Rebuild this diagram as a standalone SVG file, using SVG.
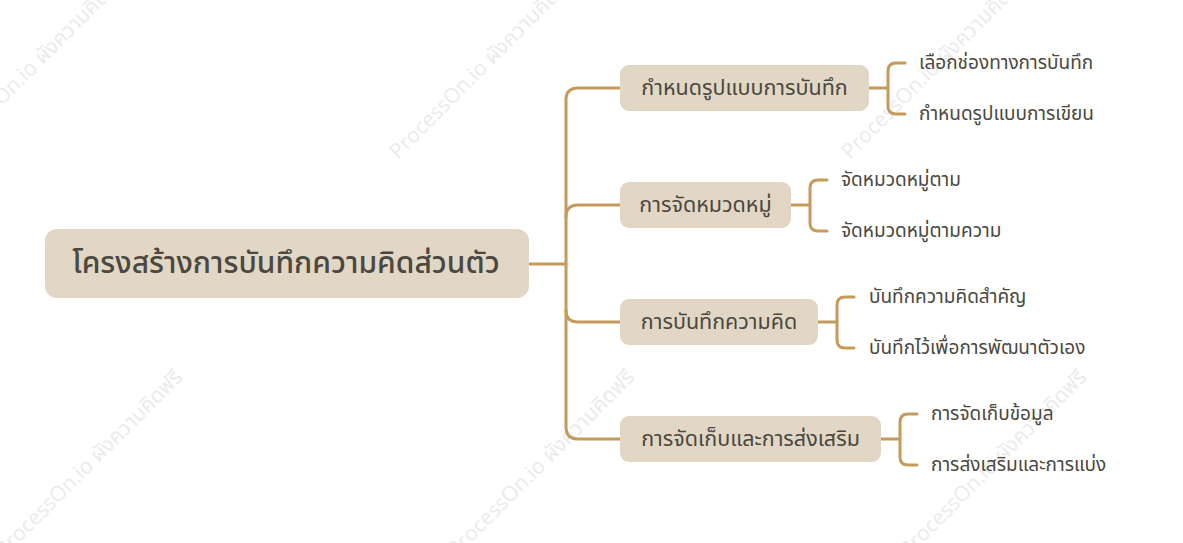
<svg xmlns="http://www.w3.org/2000/svg" width="1183" height="543" viewBox="0 0 1183 543">
<style>
.box{fill:#e2d7c5;}
.t{font-family:"Noto Sans Thai","Noto Sans",sans-serif;fill:#4a4840;dominant-baseline:central;}
.root{font-size:30px;font-weight:500;}
.mid{font-size:21.5px;}
.leaf{font-size:19px;}
.ln{fill:none;stroke:#c49b5a;stroke-width:3;stroke-linecap:round;stroke-linejoin:round;}
.wm{font-family:"Open Sans","Noto Sans Thai",sans-serif;font-size:21px;fill:#ebebeb;}
</style>
<g id="watermarks">
<text class="wm" transform="translate(-52,160) rotate(-45)">ProcessOn.io ผังความคิดฟรี</text>
<text class="wm" transform="translate(398,160) rotate(-45)">ProcessOn.io ผังความคิดฟรี</text>
<text class="wm" transform="translate(850,160) rotate(-45)">ProcessOn.io ผังความคิดฟรี</text>
<text class="wm" transform="translate(4,558) rotate(-45)">ProcessOn.io ผังความคิดฟรี</text>
<text class="wm" transform="translate(456,558) rotate(-45)">ProcessOn.io ผังความคิดฟรี</text>
<text class="wm" transform="translate(908,558) rotate(-45)">ProcessOn.io ผังความคิดฟรี</text>
</g>
<g id="connectors">
<path class="ln" d="M529,264 H566"/>
<path class="ln" d="M620,88 H578 Q566,88 566,100 V427 Q566,439 578,439 H620"/>
<path class="ln" d="M566,217 Q566,205 578,205 H620"/>
<path class="ln" d="M566,310 Q566,322 578,322 H620"/>
<path class="ln" d="M869,88 H888"/>
<path class="ln" d="M905,63 H896 Q888,63 888,71 V106 Q888,114 896,114 H905"/>
<path class="ln" d="M791,205 H810"/>
<path class="ln" d="M827,180 H818 Q810,180 810,188 V223 Q810,231 818,231 H827"/>
<path class="ln" d="M818,322 H837"/>
<path class="ln" d="M854,297 H845 Q837,297 837,305 V340 Q837,348 845,348 H854"/>
<path class="ln" d="M881,439 H900"/>
<path class="ln" d="M917,414 H908 Q900,414 900,422 V457 Q900,465 908,465 H917"/>
</g>
<g id="root">
<rect class="box" x="45" y="229" width="484" height="69" rx="12"/>
<text class="t root" x="286" y="264" text-anchor="middle">โครงสร้างการบันทึกความคิดส่วนตัว</text>
</g>
<g id="n1">
<rect class="box" x="620" y="65" width="249" height="46" rx="9"/>
<text class="t mid" x="744.5" y="88" text-anchor="middle">กำหนดรูปแบบการบันทึก</text>
</g>
<g id="n2">
<rect class="box" x="620" y="182" width="171" height="46" rx="9"/>
<text class="t mid" x="705.5" y="205" text-anchor="middle">การจัดหมวดหมู่</text>
</g>
<g id="n3">
<rect class="box" x="620" y="299" width="198" height="46" rx="9"/>
<text class="t mid" x="719" y="322" text-anchor="middle">การบันทึกความคิด</text>
</g>
<g id="n4">
<rect class="box" x="620" y="416" width="261" height="46" rx="9"/>
<text class="t mid" x="750.5" y="439" text-anchor="middle">การจัดเก็บและการส่งเสริม</text>
</g>
<g id="l1a"><text class="t leaf" x="919" y="63">เลือกช่องทางการบันทึก</text></g>
<g id="l1b"><text class="t leaf" x="919" y="114">กำหนดรูปแบบการเขียน</text></g>
<g id="l2a"><text class="t leaf" x="841" y="180">จัดหมวดหมู่ตาม</text></g>
<g id="l2b"><text class="t leaf" x="841" y="231">จัดหมวดหมู่ตามความ</text></g>
<g id="l3a"><text class="t leaf" x="869" y="297">บันทึกความคิดสำคัญ</text></g>
<g id="l3b"><text class="t leaf" x="869" y="348">บันทึกไว้เพื่อการพัฒนาตัวเอง</text></g>
<g id="l4a"><text class="t leaf" x="931" y="414">การจัดเก็บข้อมูล</text></g>
<g id="l4b"><text class="t leaf" x="931" y="465">การส่งเสริมและการแบ่ง</text></g>
</svg>
